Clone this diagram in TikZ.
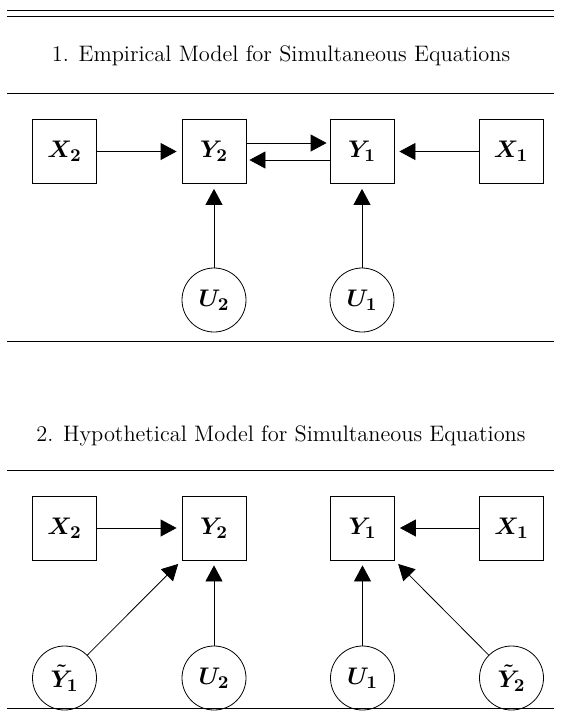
\documentclass[tikz,border=0pt]{standalone}
\usepackage{amsmath,bm}
\usetikzlibrary{arrows.meta}
\begin{document}
\begin{tikzpicture}[x=0.5pt,y=-0.5pt,
  rulel/.style={line width=0.5pt},
  var/.style={draw,line width=0.4pt,minimum size=32pt,inner sep=0pt,font=\fontsize{13}{15}\selectfont},
  boxv/.style={var,rectangle},
  circv/.style={var,circle},
  titl/.style={font=\fontsize{11.2}{13}\selectfont,inner sep=0pt},
  arr/.style={line width=0.4pt,-{Triangle[length=8pt,width=8.5pt]},shorten >=2.5pt},
  arrd/.style={arr,shorten >=1.5pt}]
\useasboundingbox (0,0) rectangle (561,719);
% rules
\coordinate (r0a) at (7,10); \coordinate (r0b) at (554,10);
\coordinate (r1a) at (7,16); \coordinate (r1b) at (554,16);
\coordinate (r2a) at (7,93); \coordinate (r2b) at (554,93);
\coordinate (r3a) at (7,341); \coordinate (r3b) at (554,341);
\coordinate (r4a) at (7,470); \coordinate (r4b) at (554,470);
\coordinate (r5a) at (7,708); \coordinate (r5b) at (554,708);
\foreach \i in {0,...,5} {\draw[rulel] (r\i a) -- (r\i b);}
\node[titl] (t1) at (281,56) {1. Empirical Model for Simultaneous Equations};
\node[titl] (t2) at (281,436) {2. Hypothetical Model for Simultaneous Equations};
% section 1
\node[boxv] (aX2) at (64.5,151.5) {$\bm{X_2}$};
\node[boxv] (aY2) at (214,151.5) {$\bm{Y_2}$};
\node[boxv] (aY1) at (362,151.5) {$\bm{Y_1}$};
\node[boxv] (aX1) at (511,151.5) {$\bm{X_1}$};
\node[circv] (aU2) at (214,300) {$\bm{U_2}$};
\node[circv] (aU1) at (362,300) {$\bm{U_1}$};
\draw[arr] (aX2) -- (aY2);
\draw[arr] (aX1) -- (aY1);
\draw[arrd] (aY2.east |- 0,143) -- (aY1.west |- 0,143);
\draw[arrd] (aY1.west |- 0,160) -- (aY2.east |- 0,160);
\draw[arr] (aU2) -- (aY2);
\draw[arr] (aU1) -- (aY1);
% section 2
\node[boxv] (bX2) at (64.5,528) {$\bm{X_2}$};
\node[boxv] (bY2) at (214,528) {$\bm{Y_2}$};
\node[boxv] (bY1) at (362.5,528) {$\bm{Y_1}$};
\node[boxv] (bX1) at (511.5,528) {$\bm{X_1}$};
\node[circv] (bT1) at (64.5,678) {$\bm{\tilde{Y}_1}$};
\node[circv] (bU2) at (214,678) {$\bm{U_2}$};
\node[circv] (bU1) at (362.5,678) {$\bm{U_1}$};
\node[circv] (bT2) at (511.5,678) {$\bm{\tilde{Y}_2}$};
\draw[arr] (bX2) -- (bY2);
\draw[arr] (bX1) -- (bY1);
\draw[arr] (bT1) -- (bY2);
\draw[arr] (bU2) -- (bY2);
\draw[arr] (bU1) -- (bY1);
\draw[arr] (bT2) -- (bY1);
\end{tikzpicture}
\end{document}
